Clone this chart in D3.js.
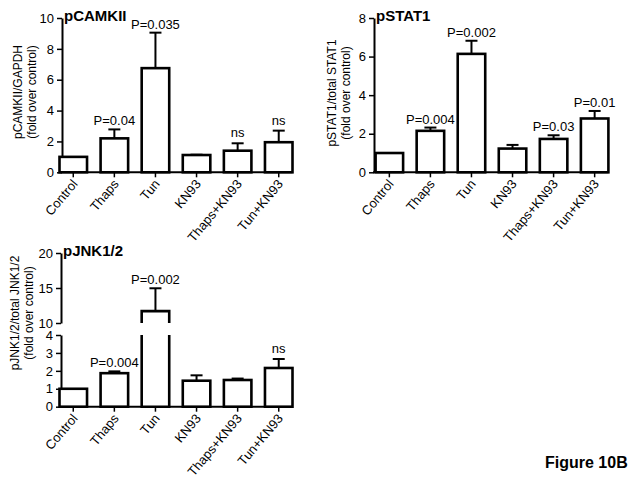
<!DOCTYPE html>
<html>
<head>
<meta charset="utf-8">
<script src="https://cdn.jsdelivr.net/npm/d3@7"></script>
<style>
body { margin: 0; background: #fff; }
text { font-family: "Liberation Sans", Arial, sans-serif; fill: #000; }
</style>
</head>
<body>
<div id="chart"></div>
<script>
// categories shared by all three panels
var categories = ["Control", "Thaps", "Tun", "KN93", "Thaps+KN93", "Tun+KN93"];

// pCAMKII / GAPDH
var camkiiMean = [1.0, 2.2, 6.75, 1.12, 1.4, 1.95];
var camkiiSem = [0, 0.58, 2.3, 0.02, 0.48, 0.75];
var camkiiLabels = ["", "P=0.04", "P=0.035", "", "ns", "ns"];
var camkiiTicks = [0, 2, 4, 6, 8, 10];

// pSTAT1 / total STAT1
var stat1Mean = [1.0, 2.15, 6.14, 1.23, 1.73, 2.79];
var stat1Sem = [0, 0.17, 0.68, 0.19, 0.19, 0.39];
var stat1Labels = ["", "P=0.004", "P=0.002", "", "P=0.03", "P=0.01"];
var stat1Ticks = [0, 2, 4, 6, 8];

// pJNK1/2 / total JNK1/2 (broken y axis)
var jnkMean = [1.0, 1.87, 11.7, 1.45, 1.49, 2.16];
var jnkSem = [0, 0.1, 3.26, 0.3, 0.08, 0.5];
var jnkLabels = ["", "P=0.004", "P=0.002", "", "", "ns"];
var jnkTicksLow = [0, 1, 2, 3, 4];
var jnkTicksHigh = [10, 15, 20];

var W = 632, H = 487;

var svg = d3.select("#chart").append("svg")
    .attr("width", W)
    .attr("height", H);

function drawPanel(p) {
    var g = svg.append("g");

    var x = d3.scaleBand().domain(categories).range(p.xRange)
        .paddingInner(0.33).paddingOuter(0);
    var bw = x.bandwidth();

    var segs = p.segments.map(function(s) {
        return { scale: d3.scaleLinear().domain(s.domain).range(s.range), domain: s.domain, ticks: s.ticks };
    });
    function y(v) {
        for (var i = 0; i < segs.length; i++) {
            if (v <= segs[i].domain[1]) return segs[i].scale(v);
        }
        return segs[segs.length - 1].scale(v);
    }
    var y0 = segs[0].scale(0);

    // y axis (one piece per segment)
    segs.forEach(function(s) {
        var ax = g.append("g")
            .attr("transform", "translate(" + p.axisX + ",0)")
            .call(d3.axisLeft(s.scale).tickValues(s.ticks).tickFormat(d3.format("d"))
                .tickSize(5).tickPadding(3).tickSizeOuter(0));
        ax.select(".domain").attr("stroke", "#000").attr("stroke-width", 2);
        ax.selectAll(".tick line").attr("stroke", "#000").attr("stroke-width", 1.5);
        ax.selectAll(".tick text").style("font-size", "13px").attr("fill", "#000");
    });

    // x axis
    g.append("line")
        .attr("x1", p.axisX - 1).attr("x2", p.xRange[1])
        .attr("y1", y0).attr("y2", y0)
        .attr("stroke", "#000").attr("stroke-width", 2);

    g.selectAll(".xtick")
        .data(categories)
        .enter().append("line")
        .attr("class", "xtick")
        .attr("x1", function(d) { return x(d) + bw / 2; })
        .attr("x2", function(d) { return x(d) + bw / 2; })
        .attr("y1", y0).attr("y2", y0 + 5)
        .attr("stroke", "#000").attr("stroke-width", 1.5);

    g.selectAll(".xlabel")
        .data(categories)
        .enter().append("text")
        .attr("class", "xlabel")
        .attr("text-anchor", "end")
        .style("font-size", "13px")
        .attr("transform", function(d) {
            return "translate(" + (x(d) + bw / 2 + 5) + "," + (y0 + 12) + ") rotate(-50)";
        })
        .text(function(d) { return d; });

    var data = categories.map(function(c, i) {
        return { cat: c, mean: p.means[i], sem: p.sems[i], label: p.labels[i] };
    });

    // error bars (upper only)
    var err = g.selectAll(".err").data(data.filter(function(d) { return d.sem > 0; }))
        .enter().append("g").attr("class", "err");
    err.append("line")
        .attr("x1", function(d) { return x(d.cat) + bw / 2; })
        .attr("x2", function(d) { return x(d.cat) + bw / 2; })
        .attr("y1", function(d) { return y(d.mean); })
        .attr("y2", function(d) { return y(d.mean + d.sem); })
        .attr("stroke", "#000").attr("stroke-width", 2);
    err.append("line")
        .attr("x1", function(d) { return x(d.cat) + bw / 2 - 6; })
        .attr("x2", function(d) { return x(d.cat) + bw / 2 + 6; })
        .attr("y1", function(d) { return y(d.mean + d.sem); })
        .attr("y2", function(d) { return y(d.mean + d.sem); })
        .attr("stroke", "#000").attr("stroke-width", 2);

    // bars
    var breakTop = segs.length > 1 ? segs[0].domain[1] : Infinity;
    data.forEach(function(d) {
        var x0 = x(d.cat), x1 = x0 + bw;
        if (d.mean <= breakTop) {
            g.append("rect")
                .attr("x", x0).attr("y", y(d.mean))
                .attr("width", bw).attr("height", y0 - y(d.mean))
                .attr("fill", "#fff").attr("stroke", "#000").attr("stroke-width", 2.6);
        } else {
            var upBottom = segs[1].scale(segs[1].domain[0]);
            var lowTop = segs[0].scale(segs[0].domain[1]);
            g.append("path")
                .attr("d", "M" + x0 + "," + upBottom + "V" + y(d.mean) + "H" + x1 + "V" + upBottom)
                .attr("fill", "#fff").attr("stroke", "#000").attr("stroke-width", 2.6);
            g.append("path")
                .attr("d", "M" + x0 + "," + lowTop + "V" + y0 + "H" + x1 + "V" + lowTop)
                .attr("fill", "#fff").attr("stroke", "#000").attr("stroke-width", 2.6);
        }
    });

    // significance labels
    g.selectAll(".plabel")
        .data(data.filter(function(d) { return d.label; }))
        .enter().append("text")
        .attr("class", "plabel")
        .attr("text-anchor", "middle")
        .style("font-size", "13px")
        .attr("x", function(d) { return x(d.cat) + bw / 2; })
        .attr("y", function(d) { return y(d.mean + d.sem) - (d.label == "ns" ? 6 : 4); })
        .text(function(d) { return d.label; });

    // panel title
    g.append("text")
        .attr("x", p.axisX + 2).attr("y", p.titleY)
        .style("font-size", "15px").style("font-weight", "bold")
        .text(p.title);

    // y axis title, two lines
    var yt = g.append("text")
        .attr("text-anchor", "middle")
        .style("font-size", "12px")
        .attr("transform", "translate(" + p.yTitleX + "," + p.yTitleY + ") rotate(-90)");
    yt.append("tspan").attr("x", 0).attr("y", 0).text(p.yTitle[0]);
    yt.append("tspan").attr("x", 0).attr("y", 14).text(p.yTitle[1]);
}

drawPanel({
    title: "pCAMKII",
    yTitle: ["pCAMKII/GAPDH", "(fold over control)"],
    means: camkiiMean, sems: camkiiSem, labels: camkiiLabels,
    axisX: 62, xRange: [59.5, 292.5],
    segments: [{ domain: [0, 10], range: [172.3, 18], ticks: camkiiTicks }],
    titleY: 21, yTitleX: 22, yTitleY: 92
});

drawPanel({
    title: "pSTAT1",
    yTitle: ["pSTAT1/total STAT1", "(fold over control)"],
    means: stat1Mean, sems: stat1Sem, labels: stat1Labels,
    axisX: 374, xRange: [375.6, 608.4],
    segments: [{ domain: [0, 8], range: [172.3, 18], ticks: stat1Ticks }],
    titleY: 21, yTitleX: 336, yTitleY: 93
});

drawPanel({
    title: "pJNK1/2",
    yTitle: ["pJNK1/2/total JNK1/2", "(fold over control)"],
    means: jnkMean, sems: jnkSem, labels: jnkLabels,
    axisX: 61, xRange: [59.5, 292.5],
    segments: [
        { domain: [0, 4], range: [406.7, 335], ticks: jnkTicksLow },
        { domain: [10, 20], range: [323, 253], ticks: jnkTicksHigh }
    ],
    titleY: 256, yTitleX: 19, yTitleY: 313
});

svg.append("text")
    .attr("x", 545).attr("y", 468)
    .style("font-size", "16px").style("font-weight", "bold")
    .text("Figure 10B");
</script>
</body>
</html>
